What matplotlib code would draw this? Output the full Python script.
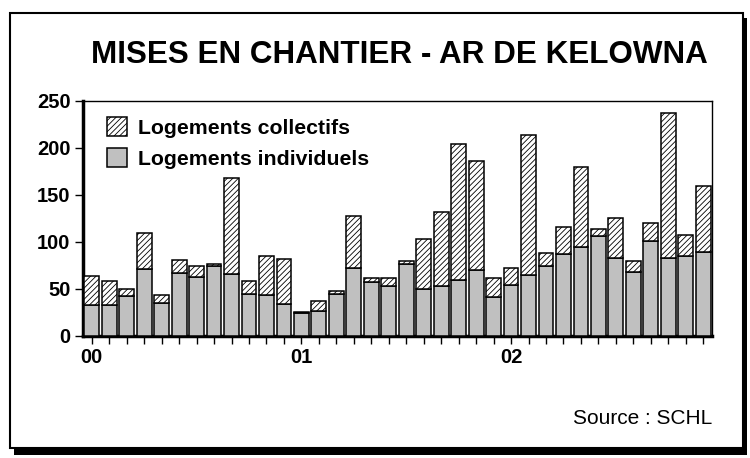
import numpy as np
import matplotlib.pyplot as plt
from matplotlib.patches import Rectangle

plt.rcParams['font.family'] = ['Liberation Sans', 'DejaVu Sans']
plt.rcParams['hatch.color'] = '#444444'
plt.rcParams['hatch.linewidth'] = 0.6

# monthly starts, Jan 2000 - Dec 2002
individuels = [32, 33, 42, 71, 35, 67, 62, 74, 66, 44, 43, 34,
               24, 26, 44, 72, 57, 53, 76, 50, 53, 59, 70, 41,
               54, 64, 74, 87, 94, 106, 83, 68, 101, 83, 85, 89]
totaux = [63, 58, 50, 109, 43, 80, 74, 76, 168, 58, 85, 82,
          25, 37, 47, 127, 61, 61, 79, 103, 132, 204, 186, 61,
          72, 214, 88, 116, 180, 114, 125, 79, 120, 237, 107, 159]
collectifs = [t - i for t, i in zip(totaux, individuels)]
year_labels = ['00', '01', '02']

fig = plt.figure(figsize=(7.5, 4.58), dpi=100)

# outer frame with drop shadow
fig.patches.append(Rectangle((14 / 750, 3 / 458), 733 / 750, 437 / 458, transform=fig.transFigure,
                             facecolor='black', edgecolor='none', zorder=0))
fig.patches.append(Rectangle((10 / 750, 10 / 458), 733 / 750, 435 / 458, transform=fig.transFigure,
                             facecolor='white', edgecolor='black', linewidth=1.5, zorder=1))

ax = fig.add_axes([83 / 750, 122.5 / 458, 629 / 750, 234.5 / 458])
ax.set_zorder(5)
ax.patch.set_alpha(0)
x = np.arange(len(individuels))
ax.bar(x, individuels, width=0.85, color='#c0c0c0', edgecolor='black', linewidth=1.1,
       label='Logements individuels', zorder=3)
ax.bar(x, collectifs, width=0.85, bottom=individuels, color='white', edgecolor='black',
       linewidth=1.1, hatch='//////', label='Logements collectifs', zorder=3)

ax.set_xlim(-0.5, len(x) - 0.5)
ax.set_ylim(0, 250)
ax.set_yticks(range(0, 251, 50))
ax.set_xticks(x)
ax.set_xticklabels([year_labels[i // 12] if i % 12 == 0 else '' for i in x])
ax.tick_params(axis='both', direction='out', length=6, width=1, labelsize=14.5, pad=3)
for lab in ax.get_xticklabels() + ax.get_yticklabels():
    lab.set_fontweight('bold')
ax.spines['left'].set_linewidth(2.5)
ax.spines['bottom'].set_linewidth(2.5)
ax.spines['top'].set_linewidth(1)
ax.spines['right'].set_linewidth(1)

handles, labels = ax.get_legend_handles_labels()
leg = ax.legend(handles[::-1], labels[::-1], loc='upper left', bbox_to_anchor=(0.038, 0.93),
                borderaxespad=0, borderpad=0, frameon=False,
                prop={'weight': 'bold', 'size': 15.3}, handlelength=0.95,
                handleheight=1.0, handletextpad=0.5, labelspacing=0.45)

fig.text(399 / 750, 1 - 55 / 458, 'MISES EN CHANTIER - AR DE KELOWNA', ha='center', va='center',
         fontsize=22.6, fontweight='bold')
fig.text(712 / 750, 1 - 418 / 458, 'Source : SCHL', ha='right', va='center', fontsize=15)

fig.savefig('out.png', dpi=100)
